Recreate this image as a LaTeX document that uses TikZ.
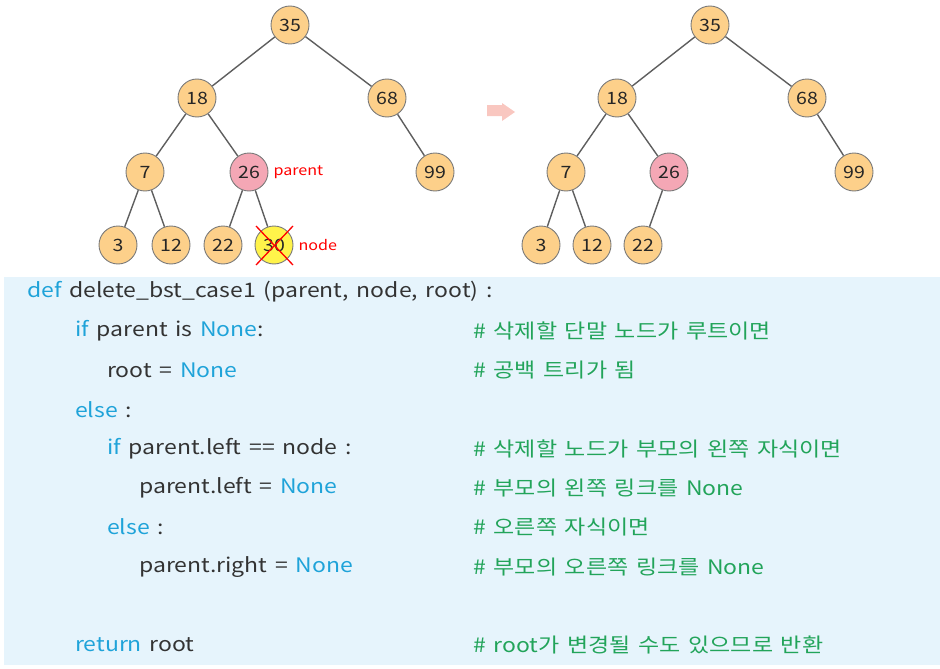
\documentclass[tikz,border=0pt]{standalone}
\usepackage{fontspec}
\setmainfont{Noto Sans CJK KR}
\newfontfamily\codefont{Noto Sans CJK KR}[FakeStretch=1.15,WordSpace=1.5]
\definecolor{knoten}{HTML}{FDD08A}
\definecolor{elter}{HTML}{F4A7B5}
\definecolor{weg}{HTML}{FFF34A}
\definecolor{rand}{HTML}{7A7A7A}
\definecolor{kante}{HTML}{5E5E5E}
\definecolor{codebg}{HTML}{E6F4FC}
\definecolor{kwblau}{HTML}{1FA3D9}
\definecolor{kommentar}{HTML}{22A45A}
\definecolor{pfeil}{HTML}{F9C7C0}
\newcommand\kw[1]{\textcolor{kwblau}{#1}}
\newcommand\km[1]{\textcolor{kommentar}{#1}}
\begin{document}
\begin{tikzpicture}[x=1pt,y=-1pt,
  bst/.style={circle,draw=rand,line width=0.9pt,fill=knoten,minimum size=38pt,inner sep=0pt,
    font=\codefont\fontsize{17}{17}\selectfont,text=black!85},
  ast/.style={draw=kante,line width=1.4pt},
  marke/.style={text=red,font=\codefont\fontsize{14}{14}\selectfont,anchor=west},
  zeile/.style={anchor=west,inner sep=0pt,text=black!80,font=\codefont\fontsize{20}{20}\selectfont}]
\useasboundingbox (0,0) rectangle (940,669);
% Baum vorher
\node[bst] (l35) at (290,25) {35};
\node[bst] (l18) at (197,98) {18};
\node[bst] (l68) at (387,98) {68};
\node[bst] (l7) at (145,172) {7};
\node[bst,fill=elter] (l26) at (249,172) {26};
\node[bst] (l99) at (435,172) {99};
\node[bst] (l3) at (118,245) {3};
\node[bst] (l12) at (171,245) {12};
\node[bst] (l22) at (223,245) {22};
\node[bst,fill=weg] (l30) at (274,245) {30};
\draw[ast] (l35) -- (l18);
\draw[ast] (l35) -- (l68);
\draw[ast] (l18) -- (l7);
\draw[ast] (l18) -- (l26);
\draw[ast] (l68) -- (l99);
\draw[ast] (l7) -- (l3);
\draw[ast] (l7) -- (l12);
\draw[ast] (l26) -- (l22);
\draw[ast] (l26) -- (l30);
\node[marke] (lparent) at (270,172) {parent};
\node[marke] (lnode) at (295,245) {node};
% Kreuz
\draw[red,line width=1.3pt] ([shift={(-18,-19)}]l30.center) -- ([shift={(19,20)}]l30.center);
\draw[red,line width=1.3pt] ([shift={(19,-19)}]l30.center) -- ([shift={(-18,20)}]l30.center);
% Pfeil
\fill[pfeil] (487,105) -- (502,105) -- (502,103) -- (515,112) -- (502,121) -- (502,116) -- (487,116) -- cycle;
% Baum nachher
\node[bst] (r35) at (710,25) {35};
\node[bst] (r18) at (617,98) {18};
\node[bst] (r68) at (807,98) {68};
\node[bst] (r7) at (566,172) {7};
\node[bst,fill=elter] (r26) at (669,172) {26};
\node[bst] (r99) at (854,172) {99};
\node[bst] (r3) at (541,245) {3};
\node[bst] (r12) at (592,245) {12};
\node[bst] (r22) at (643,245) {22};
\draw[ast] (r35) -- (r18);
\draw[ast] (r35) -- (r68);
\draw[ast] (r18) -- (r7);
\draw[ast] (r18) -- (r26);
\draw[ast] (r68) -- (r99);
\draw[ast] (r7) -- (r3);
\draw[ast] (r7) -- (r12);
\draw[ast] (r26) -- (r22);
% Code
\fill[codebg] (4,277) rectangle (940,665);
\node[zeile] (c1) at (27,292) {\kw{def} delete\_bst\_case1 (parent, node, root) :};
\node[zeile] (c2) at (75,331) {\kw{if} parent is \kw{None}:};
\node[zeile] (c3) at (107,370) {root = \kw{None}};
\node[zeile] (c4) at (75,410) {\kw{else} :};
\node[zeile] (c5) at (107,449) {\kw{if} parent.left == node :};
\node[zeile] (c6) at (139,488) {parent.left = \kw{None}};
\node[zeile] (c7) at (107,527) {\kw{else} :};
\node[zeile] (c8) at (139,567) {parent.right = \kw{None}};
\node[zeile] (c9) at (75,645) {\kw{return} root};
\node[zeile] (k2) at (473,331) {\km{\# 삭제할 단말 노드가 루트이면}};
\node[zeile] (k3) at (473,370) {\km{\# 공백 트리가 됨}};
\node[zeile] (k5) at (473,449) {\km{\# 삭제할 노드가 부모의 왼쪽 자식이면}};
\node[zeile] (k6) at (473,488) {\km{\# 부모의 왼쪽 링크를 None}};
\node[zeile] (k7) at (473,527) {\km{\# 오른쪽 자식이면}};
\node[zeile] (k8) at (473,567) {\km{\# 부모의 오른쪽 링크를 None}};
\node[zeile] (k9) at (473,645) {\km{\# root가 변경될 수도 있으므로 반환}};
\end{tikzpicture}
\end{document}
